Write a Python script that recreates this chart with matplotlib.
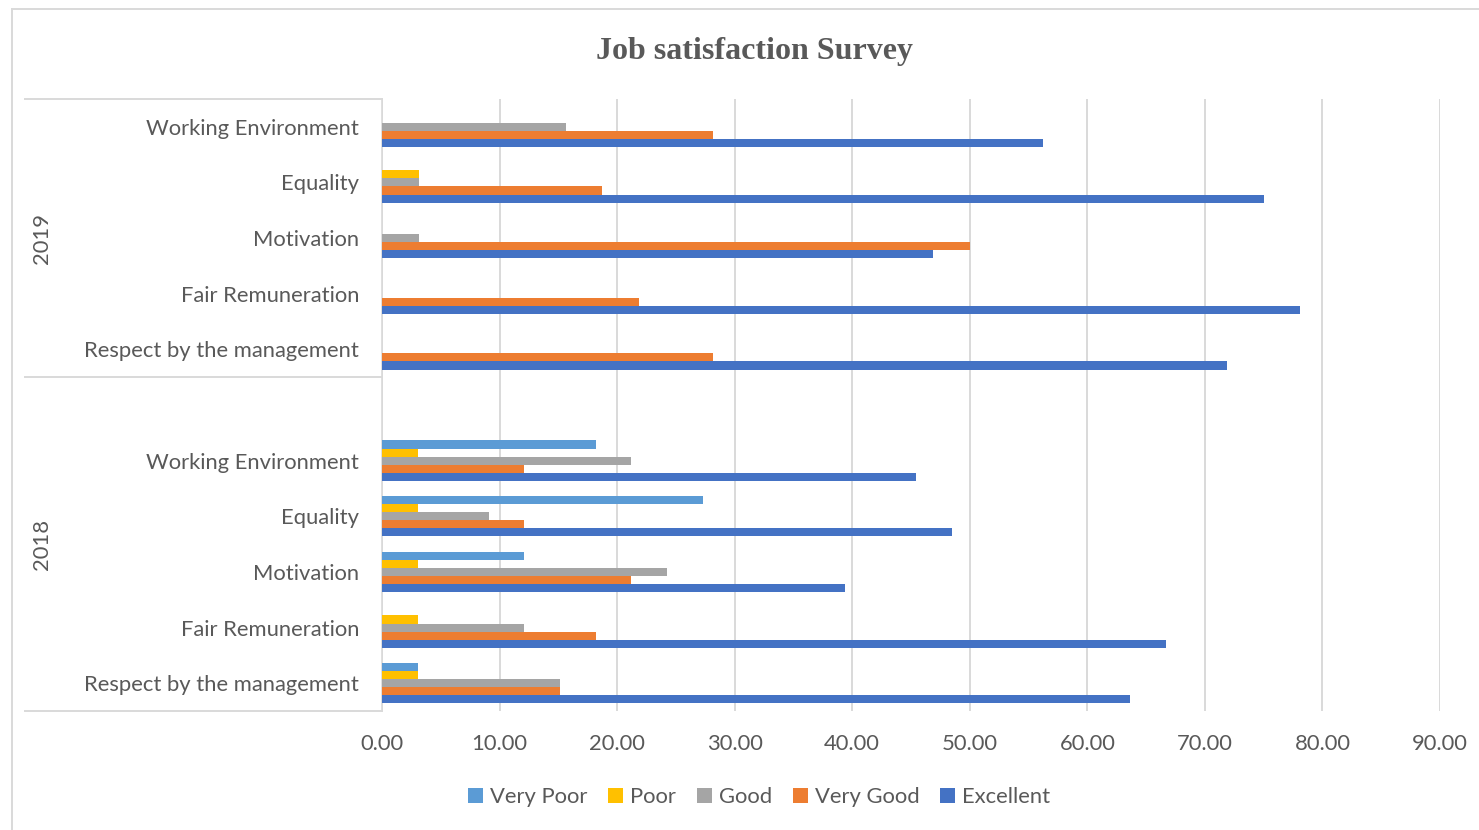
import matplotlib.pyplot as plt
import matplotlib.transforms as mtransforms
from matplotlib.patches import Patch
from matplotlib.lines import Line2D
import numpy as np

# categories listed top to bottom, one blank slot at the top of the 2018 group
categories = ['Working Environment', 'Equality', 'Motivation', 'Fair Remuneration',
              'Respect by the management', '',
              'Working Environment', 'Equality', 'Motivation', 'Fair Remuneration',
              'Respect by the management']
years = ['2019', '2018']
year_slots = [(0, 4), (5, 10)]

series_names = ['Very Poor', 'Poor', 'Good', 'Very Good', 'Excellent']
very_poor = [0, 0, 0, 0, 0, 0, 18.18, 27.27, 12.12, 0, 3.03]
poor = [0, 3.13, 0, 0, 0, 0, 3.03, 3.03, 3.03, 3.03, 3.03]
good = [15.63, 3.13, 3.13, 0, 0, 0, 21.21, 9.09, 24.24, 12.12, 15.15]
very_good = [28.13, 18.75, 50.00, 21.88, 28.13, 0, 12.12, 12.12, 21.21, 18.18, 15.15]
excellent = [56.25, 75.00, 46.88, 78.13, 71.88, 0, 45.45, 48.48, 39.39, 66.67, 63.64]
colors = ['#5B9BD5', '#FFC000', '#A5A5A5', '#ED7D31', '#4472C4']

x_ticks = np.arange(0, 91, 10)

txt = '#595959'
grid = '#D9D9D9'
fs = 15.8
plt.rcParams['font.family'] = ['Lato', 'DejaVu Sans']

W, H = 1479, 830
fig = plt.figure(figsize=(W / 100, H / 100), dpi=100)
ax = fig.add_axes([382 / W, 1 - 711 / H, (1440 - 382) / W, (711 - 99) / H])

y = np.arange(len(categories))
h = 0.145
all_series = [very_poor, poor, good, very_good, excellent]
for k, (vals, col) in enumerate(zip(all_series, colors)):
    ax.barh(y + (k - 2) * h, vals, height=h, color=col, edgecolor='none', zorder=3)

ax.set_xlim(0, 90)
ax.set_ylim(len(categories) - 0.5, -0.5)
ax.set_xticks(x_ticks)
ax.set_xticklabels(['%.2f' % v for v in x_ticks], color=txt, fontsize=fs)
ax.set_yticks(y)
ax.set_yticklabels(categories, color=txt, fontsize=fs)
ax.tick_params(axis='y', length=0, pad=16.5)
ax.tick_params(axis='x', length=0, pad=16.5)
ax.grid(axis='x', color=grid, linewidth=1.4, zorder=0)
for s in ['top', 'right', 'bottom']:
    ax.spines[s].set_visible(False)
ax.spines['left'].set_color(grid)
ax.spines['left'].set_linewidth(1.2)

# group separators and year labels on the category axis
trans = mtransforms.blended_transform_factory(ax.transAxes, ax.transData)
x_left = (25 - 382) / (1440 - 382)
bounds = [-0.5] + [b + 0.5 for (_, b) in year_slots]
for b in bounds:
    ax.plot([x_left, 0], [b, b], transform=trans, color=grid, linewidth=1.4, clip_on=False)
x_year = (42 - 382) / (1440 - 382)
for yr, (a, b) in zip(years, year_slots):
    ax.text(x_year, (a + b) / 2, yr, transform=trans, rotation=90, ha='center', va='center',
            color=txt, fontsize=fs)

fig.text(754 / W, 1 - 51 / H, 'Job satisfaction Survey', ha='center', va='center',
         fontsize=23, fontweight='bold', family='Liberation Serif', color=txt)

handles = [Patch(facecolor=c, edgecolor='none', label=n) for n, c in zip(series_names, colors)]
fig.legend(handles=handles, loc='center', bbox_to_anchor=(759 / W, 1 - 797 / H), ncol=5,
           frameon=False, handlelength=0.7, handleheight=0.7, handletextpad=0.3,
           columnspacing=0.95, fontsize=fs, labelcolor=txt)

# outer chart border
fig.add_artist(Line2D([12 / W, 1], [1 - 9 / H, 1 - 9 / H], color=grid, linewidth=1.4))
fig.add_artist(Line2D([12 / W, 12 / W], [0, 1 - 9 / H], color=grid, linewidth=1.4))

fig.savefig('out.png', dpi=100)
